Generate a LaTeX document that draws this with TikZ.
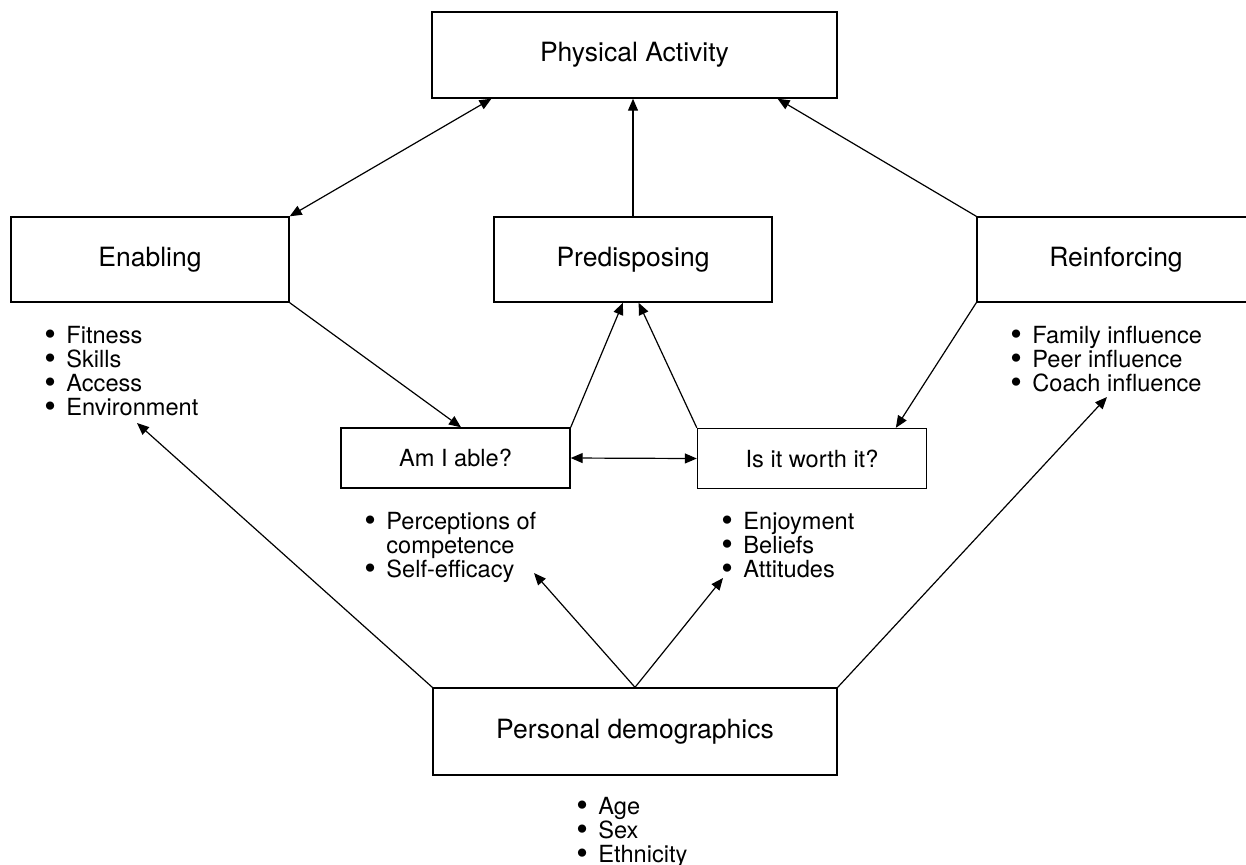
\documentclass[tikz,border=0pt]{standalone}
\usepackage{graphicx}
\usepackage{fontspec}
\setmainfont{TeX Gyre Heros}
\usetikzlibrary{arrows.meta,calc}
\newcommand{\itm}{\makebox[11pt][l]{\smash{\raisebox{-0.7pt}{\scalebox{1.4}{\textbullet}}}}}
\begin{document}
\begin{tikzpicture}[x=0.5pt,y=-0.5pt,
  bigbox/.style={draw,line width=0.7pt,minimum width=139pt,minimum height=42.5pt,inner sep=0pt,font=\fontsize{13.25}{15}\selectfont},
  smallbox/.style={draw,line width=0.7pt,minimum width=114.5pt,minimum height=30pt,inner sep=0pt,font=\fontsize{11.8}{14}\selectfont},
  list/.style={anchor=north west,align=left,inner sep=0pt,font=\fontsize{11.8}{12}\selectfont},
  link/.style={line width=0.6pt,-{Triangle[length=6pt,width=5pt]}},
  both/.style={line width=0.6pt,{Triangle[length=6pt,width=5pt]}-{Triangle[length=6pt,width=5pt]}}]
  \useasboundingbox (0,0) rectangle (1246,864);
  \node[bigbox,minimum width=202.5pt,minimum height=43pt] (activity) at (634.5,55) {Physical Activity};
  \node[bigbox] (enabling) at (150,259.5) {Enabling};
  \node[bigbox] (predisp) at (633,259.5) {Predisposing};
  \node[bigbox] (reinf) at (1116,259.5) {Reinforcing};
  \node[smallbox] (able) at (455.5,458) {Am I able?};
  \node[smallbox] (worth) at (812,458.5) {Is it worth it?};
  \node[bigbox,minimum width=202pt,minimum height=43.5pt] (demog) at (635,731.5) {Personal demographics};
  \node[list] (enablist) at (44,326) {\itm Fitness\\\itm Skills\\\itm Access\\\itm Environment};
  \node[list] (reinlist) at (1010,326) {\itm Family influence\\\itm Peer influence\\\itm Coach influence};
  \node[list] (ablelist) at (364,512) {\itm Perceptions of\\\hspace*{11pt}competence\\\itm Self-efficacy};
  \node[list] (worthlist) at (721,512) {\itm Enjoyment\\\itm Beliefs\\\itm Attitudes};
  \node[list] (demolist) at (576,797) {\itm Age\\\itm Sex\\\itm Ethnicity};
  \coordinate (toenab) at (137,423);
  \coordinate (toreinf) at (1107,397);
  \coordinate (toable) at (534,573);
  \coordinate (toworth) at (723,578);
  \draw[both] (enabling.north east) -- ($(activity.south west)!0.148!(activity.south east)$);
  \draw[link] (predisp.north) -- (predisp.north |- activity.south);
  \draw[link] (reinf.north west) -- ($(activity.south west)!0.852!(activity.south east)$);
  \draw[link] (enabling.south east) -- ($(able.north west)!0.524!(able.north east)$);
  \draw[link] (able.north east) -- ($(predisp.south west)!0.464!(predisp.south east)$);
  \draw[link] (worth.north west) -- ($(predisp.south west)!0.52!(predisp.south east)$);
  \draw[link] (reinf.south west) -- ($(worth.north west)!0.864!(worth.north east)$);
  \draw[both] (able.east) -- (worth.west);
  \draw[link] (demog.north west) -- (toenab);
  \draw[link] (demog.north east) -- (toreinf);
  \draw[link] (demog.north) -- (toable);
  \draw[link] (demog.north) -- (toworth);
\end{tikzpicture}
\end{document}
